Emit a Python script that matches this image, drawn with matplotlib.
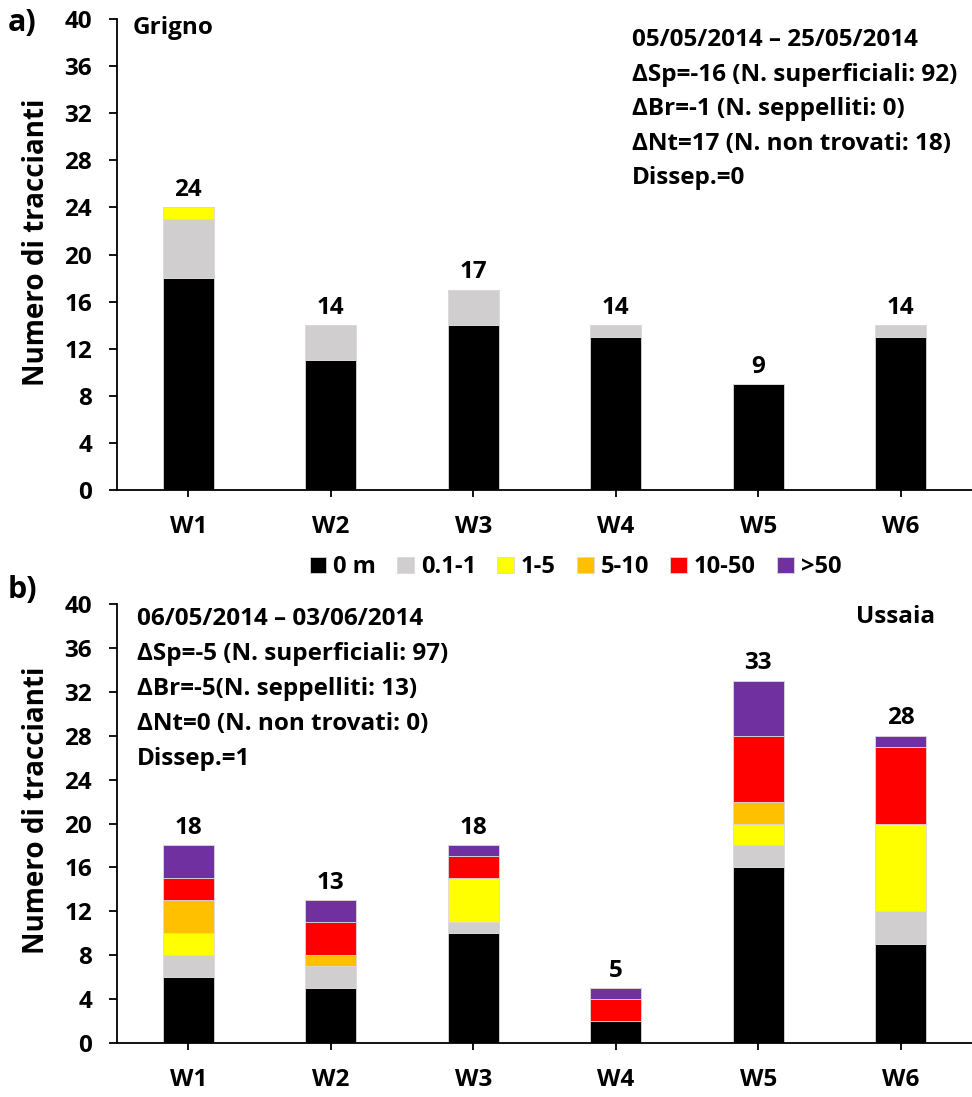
import numpy as np
import matplotlib
matplotlib.use("Agg")
import matplotlib.pyplot as plt

plt.rcParams['font.family'] = ['Open Sans', 'DejaVu Sans']
plt.rcParams['font.weight'] = 'bold'

# data
stations = ["W1", "W2", "W3", "W4", "W5", "W6"]
classes = ["0 m", "0.1-1", "1-5", "5-10", "10-50", ">50"]
colors = ["#000000", "#D0CECE", "#FFFF00", "#FFC000", "#FF0000", "#7030A0"]

# panel a) Grigno
grigno_0m = [18, 11, 14, 13, 9, 13]
grigno_01_1 = [5, 3, 3, 1, 0, 1]
grigno_1_5 = [1, 0, 0, 0, 0, 0]
grigno_5_10 = [0, 0, 0, 0, 0, 0]
grigno_10_50 = [0, 0, 0, 0, 0, 0]
grigno_50 = [0, 0, 0, 0, 0, 0]

# panel b) Ussaia
ussaia_0m = [6, 5, 10, 2, 16, 9]
ussaia_01_1 = [2, 2, 1, 0, 2, 3]
ussaia_1_5 = [2, 0, 4, 0, 2, 8]
ussaia_5_10 = [3, 1, 0, 0, 2, 0]
ussaia_10_50 = [2, 3, 2, 2, 6, 7]
ussaia_50 = [3, 2, 1, 1, 5, 1]

grigno_text = ["05/05/2014 \u2013 25/05/2014",
               "\u0394Sp=-16 (N. superficiali: 92)",
               "\u0394Br=-1 (N. seppelliti: 0)",
               "\u0394Nt=17 (N. non trovati: 18)",
               "Dissep.=0"]
ussaia_text = ["06/05/2014 \u2013 03/06/2014",
               "\u0394Sp=-5 (N. superficiali: 97)",
               "\u0394Br=-5(N. seppelliti: 13)",
               "\u0394Nt=0 (N. non trovati: 0)",
               "Dissep.=1"]

FS = 17.5


def draw_panel(ax, series, label_y):
    x = np.arange(len(stations))
    bottom = np.zeros(len(stations))
    bars = []
    for vals, col, lab in zip(series, colors, classes):
        b = ax.bar(x, vals, 0.36, bottom=bottom, color=col,
                   edgecolor="#d9d9d9", linewidth=0.6, label=lab)
        bars.append(b)
        bottom = bottom + np.array(vals)
    for xi, tot in zip(x, bottom):
        ax.annotate(f"{int(tot)}", (xi, tot), xytext=(0, 12.5),
                    textcoords="offset points", ha="center", va="center",
                    fontsize=FS, fontweight="bold")
    ax.set_xlim(-0.5, len(stations) - 0.5)
    ax.set_ylim(0, 40)
    ax.set_yticks(np.arange(0, 41, 4))
    ax.set_xticks(x)
    ax.set_xticklabels(stations)
    for s in ["top", "right"]:
        ax.spines[s].set_visible(False)
    ax.spines["left"].set_linewidth(1.3)
    ax.spines["bottom"].set_linewidth(1.3)
    ax.tick_params(axis="y", direction="out", length=6, width=1.3,
                   labelsize=FS, pad=12)
    ax.tick_params(axis="x", direction="out", length=5, width=1.3,
                   labelsize=FS, pad=13)
    for t in ax.get_xticklabels() + ax.get_yticklabels():
        t.set_fontweight("bold")
    ax.set_ylabel("Numero di traccianti", fontsize=20, fontweight="bold")
    ax.yaxis.set_label_coords(-0.077, label_y)
    return bars


fig = plt.figure(figsize=(9.72, 10.97), dpi=100)
ax1 = fig.add_axes([0.1204, 0.5533, 0.8796, 0.4294])
ax2 = fig.add_axes([0.1204, 0.0492, 0.8796, 0.4002])

bars = draw_panel(ax1, [grigno_0m, grigno_01_1, grigno_1_5,
                        grigno_5_10, grigno_10_50, grigno_50], 0.527)
draw_panel(ax2, [ussaia_0m, ussaia_01_1, ussaia_1_5,
                 ussaia_5_10, ussaia_10_50, ussaia_50], 0.53)

# annotations
ax1.text(0.0187, 0.981, "Grigno", transform=ax1.transAxes, ha="left",
         va="center", fontsize=FS, fontweight="bold")
for i, line in enumerate(grigno_text):
    ax1.text(0.602, 0.955 - i * 0.0732, line, transform=ax1.transAxes,
             ha="left", va="center", fontsize=FS, fontweight="bold")

ax2.text(0.957, 0.970, "Ussaia", transform=ax2.transAxes, ha="right",
         va="center", fontsize=FS, fontweight="bold")
for i, line in enumerate(ussaia_text):
    ax2.text(0.0234, 0.966 - i * 0.0797, line, transform=ax2.transAxes,
             ha="left", va="center", fontsize=FS, fontweight="bold")

fig.text(0.008, 0.979, "a)", fontsize=22, fontweight="bold", ha="left",
         va="center")
fig.text(0.008, 0.462, "b)", fontsize=22, fontweight="bold", ha="left",
         va="center")

fig.legend(bars, classes, loc="center", bbox_to_anchor=(0.592, 0.483),
           ncol=6, frameon=False, handlelength=0.7,
           handleheight=0.7, handletextpad=0.3, columnspacing=0.9,
           prop={"weight": "bold", "size": 17})

fig.savefig("out.png", dpi=100)
